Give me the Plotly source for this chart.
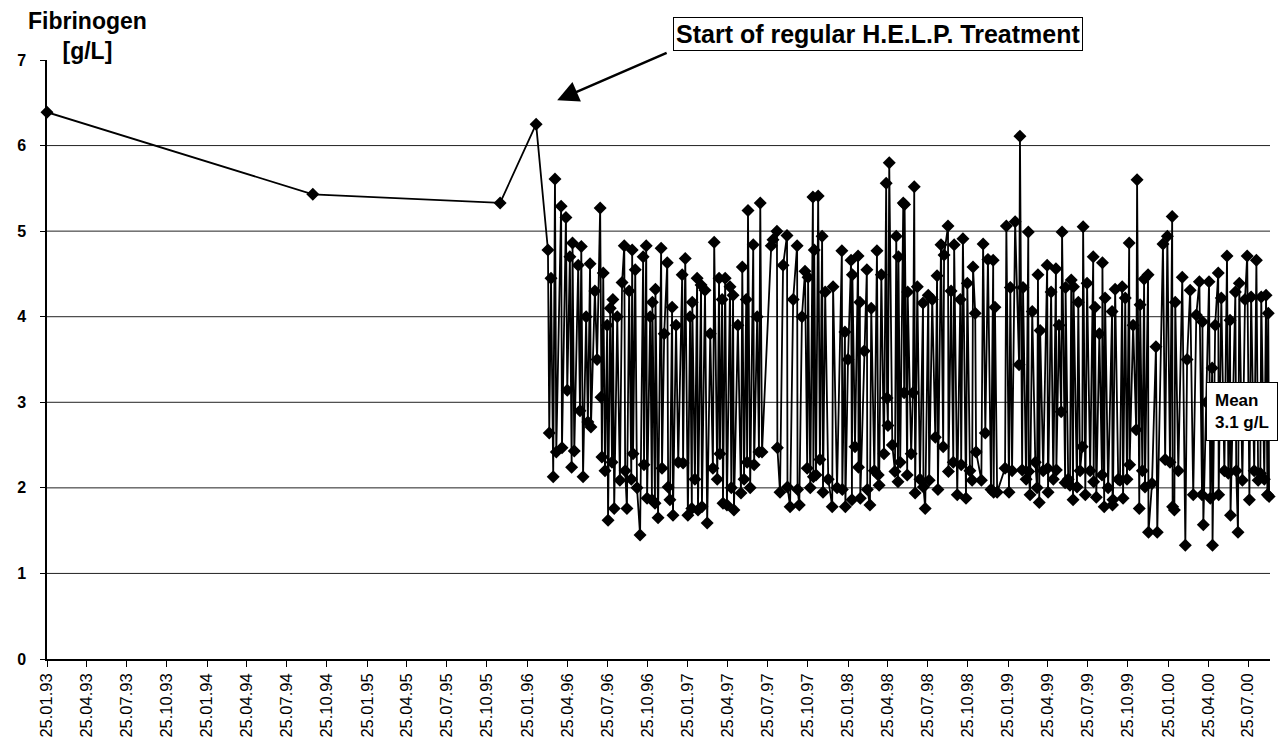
import pandas as pd
import plotly.graph_objects as go

# ---------------- data (days since 25.01.1993, fibrinogen g/L) ----------------
start_date = "1993-01-25"

days_early = [0, 606, 1033, 1115]
fib_early = [6.39, 5.43, 5.33, 6.25]

days_a = [1142, 1145, 1149, 1154, 1158, 1161, 1172, 1174, 1183, 1186, 1192, 1196, 1198, 1202, 1211,
          1215, 1218, 1222, 1229, 1233, 1238, 1240, 1249, 1254, 1261, 1263, 1265, 1268, 1272, 1277,
          1279, 1284, 1288, 1290, 1293, 1300, 1306, 1311, 1316, 1318, 1322, 1327, 1332, 1334, 1336]
fib_a = [4.78, 2.64, 4.45, 2.13, 5.61, 2.42, 5.29, 2.47, 5.16, 3.14, 4.7, 2.24, 4.86, 2.43, 4.6,
         2.9, 4.82, 2.13, 4.0, 2.77, 4.62, 2.71, 4.3, 3.5, 5.27, 3.06, 2.36, 4.51, 2.2, 3.9,
         1.62, 4.1, 2.3, 4.2, 1.76, 4.0, 2.09, 4.4, 4.83, 2.2, 1.76, 4.3, 2.1, 4.78, 2.4]

days_b = [1341, 1345, 1352, 1359, 1361, 1366, 1368, 1375, 1379, 1380, 1386, 1387, 1393, 1400, 1402,
          1407, 1414, 1416, 1420, 1425, 1427, 1434, 1439, 1448, 1450, 1455, 1461, 1466, 1470, 1471,
          1477, 1482, 1484, 1491, 1493, 1500, 1505, 1512, 1518, 1521, 1528, 1532, 1534, 1539, 1541]
fib_b = [4.55, 2.0, 1.45, 4.7, 2.27, 4.83, 1.88, 4.0, 1.86, 4.17, 1.82, 4.32, 1.65, 4.8, 2.23,
         3.8, 4.63, 2.01, 1.86, 4.11, 1.68, 3.9, 2.3, 4.49, 2.29, 4.68, 1.68, 4.0, 1.76, 4.17,
         2.1, 4.45, 1.74, 4.37, 1.78, 4.31, 1.59, 3.8, 2.23, 4.87, 2.1, 4.45, 2.4, 4.2, 1.82]

days_c = [1546, 1550, 1557, 1560, 1564, 1566, 1575, 1582, 1585, 1589, 1594, 1596, 1598, 1603, 1610,
          1612, 1619, 1623, 1626, 1630, 1651, 1655, 1664, 1665, 1671, 1678, 1687, 1688, 1694, 1701,
          1710, 1711, 1715, 1721, 1728, 1733, 1735, 1740, 1746, 1747]
fib_c = [4.45, 1.8, 4.35, 2.0, 4.25, 1.74, 3.9, 1.94, 4.58, 2.1, 4.2, 2.3, 5.24, 2.0, 4.84,
         2.27, 4.0, 2.42, 5.33, 2.42, 4.83, 4.9, 5.0, 2.47, 1.95, 4.6, 4.95, 2.01, 1.78, 4.2,
         4.83, 1.98, 1.8, 4.0, 4.53, 2.23, 4.46, 2.0, 5.4, 2.13]

days_d = [1749, 1753, 1758, 1762, 1767, 1769, 1774, 1781, 1790, 1792, 1801, 1812, 1813, 1819, 1820,
          1826, 1833, 1835, 1836, 1842, 1849, 1850, 1853, 1854, 1863, 1869, 1870, 1876, 1879, 1886,
          1892, 1895, 1897, 1902, 1908, 1913, 1915, 1917, 1920, 1927, 1933, 1936, 1940, 1941, 1945, 1952]
fib_d = [4.78, 2.15, 5.41, 2.33, 4.94, 1.95, 4.29, 2.1, 1.78, 4.35, 2.0, 4.77, 1.98, 3.82, 1.78,
         3.5, 4.66, 1.86, 4.49, 2.48, 4.71, 2.24, 4.17, 1.88, 3.6, 4.55, 1.98, 1.8, 4.1, 2.2,
         4.77, 2.15, 2.03, 4.49, 2.4, 5.56, 3.05, 2.73, 5.8, 2.5, 2.19, 4.94, 2.07, 4.7, 2.3, 5.33]

days_e = [1954, 1955, 1961, 1962, 1970, 1974, 1977, 1979, 1984, 1990, 1997, 1998, 2002, 2009, 2011,
          2018, 2025, 2029, 2031, 2038, 2043, 2045, 2054, 2055, 2061, 2066, 2068, 2075, 2082, 2084,
          2088, 2095, 2098, 2104, 2109, 2111, 2116, 2118, 2130, 2134, 2139, 2145, 2152, 2157]
fib_e = [3.11, 5.31, 2.15, 4.29, 2.4, 3.11, 5.52, 1.94, 4.35, 2.1, 4.16, 2.01, 1.76, 4.25, 2.09,
         4.2, 2.59, 4.48, 1.98, 4.84, 2.48, 4.72, 5.06, 2.19, 4.3, 2.3, 4.84, 1.92, 4.2, 2.27,
         4.91, 1.88, 4.39, 2.2, 2.09, 4.58, 4.04, 2.42, 2.09, 4.85, 2.64, 4.67, 1.98, 4.66]

days_f = [2158, 2161, 2166, 2184, 2187, 2193, 2196, 2200, 2207, 2216, 2218, 2223, 2225, 2232, 2237,
          2238, 2241, 2246, 2253, 2257, 2259, 2262, 2264, 2271, 2280, 2281, 2282, 2289, 2294, 2300,
          2301, 2307, 2312, 2314, 2321, 2322, 2328, 2332, 2335, 2339, 2340, 2348, 2351, 2355, 2360, 2362]
fib_f = [1.95, 4.11, 1.95, 2.23, 5.06, 1.95, 4.34, 2.2, 5.11, 3.44, 6.11, 2.21, 4.34, 2.1, 4.99,
         2.19, 1.92, 4.06, 2.3, 2.0, 4.49, 1.83, 3.84, 2.2, 4.6, 2.23, 1.95, 4.29, 2.1, 4.56,
         2.21, 3.9, 2.89, 4.99, 2.06, 4.34, 2.1, 2.03, 4.43, 1.86, 4.35, 2.01, 4.17, 2.2, 2.48, 5.05]

days_g = [2367, 2371, 2378, 2385, 2386, 2389, 2392, 2399, 2405, 2406, 2410, 2412, 2419, 2428, 2429,
          2430, 2435, 2442, 2446, 2451, 2453, 2458, 2462, 2467, 2468, 2476, 2483, 2485, 2490, 2492,
          2497, 2501, 2503, 2510, 2511, 2519, 2528, 2531, 2544, 2549, 2554, 2560, 2565, 2566]
fib_g = [1.92, 4.39, 2.2, 4.7, 2.07, 4.11, 1.89, 3.8, 2.15, 4.63, 1.78, 4.22, 2.0, 4.06, 1.8,
         1.86, 4.32, 2.1, 2.09, 4.35, 1.88, 4.22, 2.1, 4.86, 2.27, 3.9, 2.68, 5.6, 1.76, 4.14,
         2.2, 4.44, 2.01, 4.49, 1.48, 2.05, 3.65, 1.48, 4.85, 2.33, 4.94, 2.3, 5.17, 1.78]

days_h = [2570, 2572, 2579, 2588, 2595, 2599, 2606, 2613, 2620, 2627, 2633, 2634, 2636, 2643, 2649,
          2652, 2656, 2657, 2663, 2670, 2671, 2677, 2684, 2690, 2693, 2697, 2698, 2709, 2711, 2715,
          2718, 2725, 2731, 2736, 2741, 2745, 2752, 2757, 2761, 2766, 2768, 2775, 2779, 2782, 2784, 2786]
fib_h = [1.74, 4.17, 2.2, 4.46, 1.33, 3.5, 4.31, 1.92, 4.02, 4.41, 1.92, 3.94, 1.57, 3.0, 4.41,
         1.88, 3.4, 1.33, 3.9, 4.51, 1.92, 4.22, 2.2, 4.71, 2.17, 3.96, 1.68, 4.29, 2.2, 1.48,
         4.39, 2.09, 4.2, 4.71, 1.86, 4.23, 2.2, 4.66, 2.09, 2.17, 4.23, 2.1, 4.25, 1.92, 4.04, 1.9]

tick_labels = ["25.01.93", "25.04.93", "25.07.93", "25.10.93",
               "25.01.94", "25.04.94", "25.07.94", "25.10.94",
               "25.01.95", "25.04.95", "25.07.95", "25.10.95",
               "25.01.96", "25.04.96", "25.07.96", "25.10.96",
               "25.01.97", "25.04.97", "25.07.97", "25.10.97",
               "25.01.98", "25.04.98", "25.07.98", "25.10.98",
               "25.01.99", "25.04.99", "25.07.99", "25.10.99",
               "25.01.00", "25.04.00", "25.07.00"]
y_ticks = [0, 1, 2, 3, 4, 5, 6, 7]
grid_levels = [1, 2, 3, 4, 5, 6]

# ---------------- assemble ----------------
day_parts = [days_early, days_a, days_b, days_c, days_d, days_e, days_f, days_g, days_h]
fib_parts = [fib_early, fib_a, fib_b, fib_c, fib_d, fib_e, fib_f, fib_g, fib_h]
all_days, all_fib = [], []
for dp, fp in zip(day_parts, fib_parts):
    assert len(dp) == len(fp), (len(dp), len(fp))
    all_days += dp
    all_fib += fp

start = pd.Timestamp(start_date)
x_dates = [start + pd.Timedelta(days=d) for d in all_days]
tick_vals = pd.to_datetime(tick_labels, format="%d.%m.%y")
x_end = start + pd.Timedelta(days=2788)

fig = go.Figure()
fig.add_trace(go.Scatter(
    x=x_dates, y=all_fib, mode="lines+markers",
    line=dict(color="black", width=1.8),
    marker=dict(symbol="diamond", size=10, color="black"),
    cliponaxis=False, hoverinfo="x+y",
))

for g in grid_levels:
    fig.add_shape(type="line", xref="paper", x0=0, x1=1, yref="y", y0=g, y1=g,
                  line=dict(color="#222222", width=1), layer="below")

FONT = "Liberation Sans, Arial, sans-serif"

fig.update_layout(
    width=1285, height=749,
    margin=dict(l=47, r=15, t=60, b=90, autoexpand=False),
    paper_bgcolor="white", plot_bgcolor="white",
    showlegend=False,
    font=dict(family=FONT, color="black"),
)
fig.update_xaxes(
    type="date", range=[start, x_end], automargin=False,
    tickmode="array", tickvals=tick_vals, ticktext=tick_labels, tickangle=-90,
    ticks="outside", ticklen=6, tickcolor="black", tickwidth=1,
    showline=True, linecolor="black", linewidth=1.5,
    showgrid=False, zeroline=False,
    tickfont=dict(family=FONT, size=16.5, color="black"),
)
fig.update_yaxes(
    range=[0, 7], tickmode="array", tickvals=y_ticks, automargin=False,
    ticks="outside", ticklen=5, tickcolor="black",
    showline=True, linecolor="black", linewidth=1.5,
    showgrid=False, zeroline=False,
    tickfont=dict(family=FONT, size=16, color="black", weight="bold"),
    ticklabelstandoff=11,
)

# axis title
fig.add_annotation(xref="paper", yref="paper", x=0.0335, y=1.04,
                   text="Fibrinogen<br>[g/L]", showarrow=False,
                   xanchor="center", yanchor="middle",
                   font=dict(family=FONT, size=23, color="black", weight="bold"))

# arrow
fig.add_annotation(x=start + pd.Timedelta(days=1163), y=6.53, xref="x", yref="y",
                   ax=start + pd.Timedelta(days=1416), ay=7.09, axref="x", ayref="y",
                   text="", showarrow=True, arrowhead=2, arrowsize=1.7,
                   arrowwidth=2.5, arrowcolor="black")

# treatment label box
fig.add_annotation(xref="paper", yref="paper", x=0.6795, y=1.0434,
                   text="Start of regular H.E.L.P. Treatment", showarrow=False,
                   xanchor="center", yanchor="middle",
                   bgcolor="white", bordercolor="black", borderwidth=1, borderpad=2,
                   font=dict(family=FONT, size=25, color="black", weight="bold"))

# mean box
fig.add_annotation(xref="paper", yref="paper", x=0.9767, y=0.414,
                   text="Mean<br>3.1 g/L", showarrow=False, align="left",
                   xanchor="center", yanchor="middle",
                   bgcolor="white", bordercolor="black", borderwidth=1, borderpad=8,
                   font=dict(family=FONT, size=17, color="black", weight="bold"))

fig.write_html("out.html", config={"displayModeBar": False},
               post_script="document.body.style.margin='0';document.body.style.overflow='hidden';")
